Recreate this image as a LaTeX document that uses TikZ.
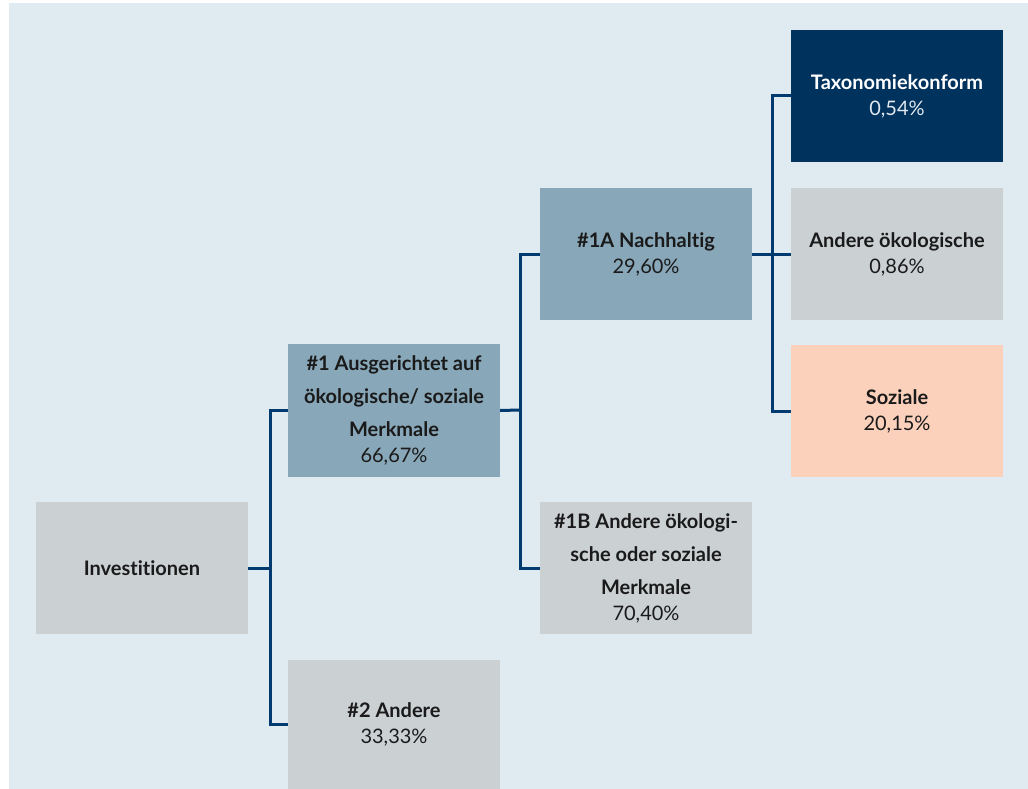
\documentclass[tikz,border=0pt]{standalone}
\usepackage{fontspec}
\setmainfont[Ligatures={NoCommon}]{Lato}
\definecolor{bg}{HTML}{E0EBF1}
\definecolor{boxgrey}{HTML}{CBD0D3}
\definecolor{boxblue}{HTML}{88A7B8}
\definecolor{boxnavy}{HTML}{00325E}
\definecolor{boxpeach}{HTML}{FBD1BC}
\definecolor{linenavy}{HTML}{003A6E}
\definecolor{txt}{HTML}{1A1A1A}
\definecolor{txtlight}{HTML}{E2E8EF}
\tikzset{
  box/.style={rectangle, minimum width=212pt, minimum height=132pt, inner sep=0pt,
    align=center, text=txt, font=\fontsize{20}{26}\selectfont},
  conn/.style={draw=linenavy, line width=3pt, line join=miter},
}
\newcommand{\bt}[1]{\textbf{#1}}
\begin{document}
\begin{tikzpicture}[x=1pt,y=-1pt]
\useasboundingbox (0,0) rectangle (1028,789);
\fill[white] (0,0) rectangle (1028,789);
\fill[bg] (9,3.5) rectangle (1028,789);

\node[box, fill=boxgrey] (inv) at (142,568) {\bt{Investitionen}};
\node[box, fill=boxblue, minimum height=133pt] (a1) at (394,410.5)
  {\bt{\#1 Ausgerichtet auf}\\[7pt]\bt{ökologische/ soziale}\\[7pt]\bt{Merkmale}\\66,67\%};
\node[box, fill=boxgrey, minimum height=129pt] (a2) at (394,724.5) {\bt{\#2 Andere}\\33,33\%};
\node[box, fill=boxblue] (n1a) at (646,254) {\bt{\#1A Nachhaltig}\\29,60\%};
\node[box, fill=boxgrey] (n1b) at (646,568)
  {\bt{\#1B Andere ökologi-}\\[7pt]\bt{sche oder soziale}\\[7pt]\bt{Merkmale}\\70,40\%};
\node[box, fill=boxnavy, text=white] (tax) at (897,96) {\bt{Taxonomiekonform}\\\textcolor{txtlight}{0,54\%}};
\node[box, fill=boxgrey] (and) at (897,254) {\bt{Andere ökologische}\\0,86\%};
\node[box, fill=boxpeach] (soz) at (897,411) {\bt{Soziale}\\20,15\%};

\coordinate (j1) at (270,568);
\coordinate (j2) at (520,410);
\coordinate (j3) at (772,254);

\draw[conn] (inv.east) -- (j1);
\draw[conn] (a1.west) -| (j1) |- (a2.west);
\draw[conn] (a1.east) -- (j2);
\draw[conn] (n1a.west) -| (j2) |- (n1b.west);
\draw[conn] (n1a.east) -- (and.west);
\draw[conn] (tax.west) -| (j3) |- (soz.west);
\end{tikzpicture}
\end{document}
